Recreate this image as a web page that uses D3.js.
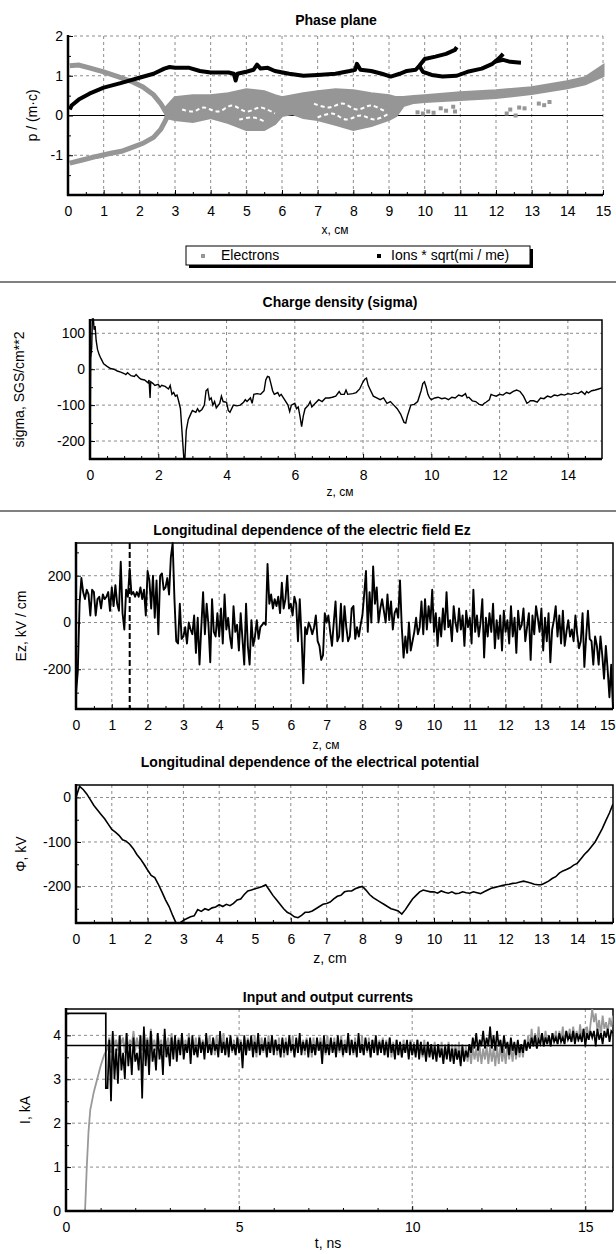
<!DOCTYPE html>
<html>
<head>
<meta charset="utf-8">
<script src="https://cdn.jsdelivr.net/npm/d3@7"></script>
<style>
body { margin: 0; background: #fff; }
svg { display: block; font-family: "Liberation Sans", Arial, sans-serif; }
.grid { stroke: #8c8c8c; stroke-width: 1; stroke-dasharray: 3,3; }
.tick text { font-size: 14px; fill: #000; }
.tick line { stroke: #000; }
.title { font-size: 14px; font-weight: bold; text-anchor: middle; }
.alabel { text-anchor: middle; fill: #000; }
</style>
</head>
<body>
<script>
// ---------- phase plane ----------
var phaseXTicks = [0,1,2,3,4,5,6,7,8,9,10,11,12,13,14,15];
var phaseYTicks = [-1,0,1,2];
// electron branches (x, p)
var elUpper = [[0.05,1.25],[0.3,1.27],[0.6,1.2],[1.0,1.1],[1.4,0.98],[1.8,0.85],[2.1,0.72],[2.4,0.52],[2.6,0.3],[2.72,0.12],[2.8,0.0]];
var elLower = [[0.05,-1.2],[0.4,-1.12],[0.8,-1.03],[1.2,-0.95],[1.5,-0.9],[1.8,-0.8],[2.1,-0.7],[2.4,-0.55],[2.6,-0.35],[2.72,-0.15],[2.8,0.0]];
var bandX   = [2.75,3.0,3.5,4.0,4.5,5.0,5.5,5.8,6.0,6.3,6.6,7.0,7.5,8.0,8.5,9.0,9.2,9.4,9.7,10,11,12,13,14,14.5,15];
var bandTop = [0.2,0.45,0.5,0.5,0.55,0.65,0.6,0.5,0.45,0.5,0.55,0.6,0.65,0.62,0.55,0.5,0.45,0.45,0.48,0.5,0.57,0.62,0.7,0.85,0.95,1.25];
var bandBot = [-0.05,-0.1,-0.15,-0.05,-0.18,-0.35,-0.35,-0.2,0.0,0.05,-0.05,-0.1,-0.22,-0.35,-0.25,-0.1,0.0,0.25,0.33,0.35,0.4,0.45,0.55,0.7,0.8,1.0];
var elHoles = [
  [[3.2,0.15],[3.5,0.1],[3.8,0.2],[4.2,0.1],[4.6,0.25],[5.0,0.1],[5.4,0.2],[5.8,0.05]],
  [[4.8,-0.1],[5.2,-0.05],[5.5,-0.15]],
  [[6.9,0.3],[7.3,0.2],[7.7,0.3],[8.1,0.15],[8.5,0.25],[8.9,0.1]],
  [[7.0,-0.05],[7.4,0.05],[7.8,-0.1],[8.2,0.0],[8.6,-0.1],[9.0,0.05]]
];
var elSparse = [[9.8,0.08],[9.95,0.05],[10.1,0.1],[10.25,0.07],[10.45,0.18],[10.6,0.12],[10.8,0.22],[10.85,0.1],
  [12.3,0.05],[12.4,0.15],[12.55,0.0],[12.65,0.2],[12.8,0.18],[13.2,0.3],[13.35,0.26],[13.5,0.34]];
var ionA = [[0.05,0.15],[0.1,0.25],[0.3,0.4],[0.6,0.55],[1.0,0.7],[1.5,0.82],[2.0,0.95],[2.4,1.05],[2.7,1.18],[2.85,1.22],[3.0,1.2],[3.4,1.2],[3.7,1.12],[4.0,1.08],[4.5,1.08],[4.65,1.05],[4.7,0.88],[4.75,1.05],[5.0,1.1],[5.2,1.15],[5.3,1.28],[5.4,1.18],[5.6,1.2],[5.8,1.12],[6.2,1.05],[6.6,1.0],[7.0,1.02],[7.5,1.05],[7.9,1.12],[8.05,1.15],[8.1,1.3],[8.2,1.15],[8.5,1.12],[8.8,1.05],[9.05,0.98],[9.3,1.05],[9.5,1.12],[9.75,1.15],[9.85,1.25],[10.0,1.42],[10.3,1.48],[10.6,1.55],[10.85,1.65],[10.9,1.72]];
var ionB = [[9.85,1.25],[9.95,1.1],[10.2,1.02],[10.5,0.98],[10.9,1.0],[11.2,1.1],[11.6,1.18],[11.9,1.3],[12.1,1.45],[12.2,1.55]];
var ionC = [[11.95,1.35],[12.2,1.4],[12.4,1.35],[12.7,1.33]];

// ---------- charge density ----------
var sigmaXTicks = [0,2,4,6,8,10,12,14];
var sigmaYTicks = [-200,-100,0,100];
var sigma = [[0.0,-250],[0.02,30],[0.05,60],[0.07,140],[0.1,140],[0.12,110],[0.15,120],[0.18,80],[0.22,55],[0.27,40],[0.32,30],[0.4,15],[0.5,8],[0.6,2],[0.7,0],[0.8,-5],[0.9,-8],[1.0,-12],[1.05,-15],[1.1,-10],[1.2,-18],[1.3,-20],[1.35,-15],[1.45,-25],[1.5,-28],[1.6,-30],[1.7,-38],[1.73,-30],[1.76,-80],[1.78,-35],[1.85,-40],[1.9,-45],[2.0,-42],[2.05,-50],[2.1,-45],[2.2,-48],[2.3,-55],[2.35,-45],[2.4,-70],[2.45,-65],[2.5,-75],[2.55,-72],[2.6,-90],[2.65,-110],[2.7,-180],[2.75,-250],[2.78,-250],[2.82,-170],[2.88,-140],[2.95,-125],[3.0,-115],[3.1,-120],[3.15,-110],[3.2,-118],[3.28,-112],[3.35,-100],[3.4,-60],[3.45,-55],[3.5,-85],[3.55,-80],[3.6,-100],[3.65,-90],[3.7,-108],[3.8,-95],[3.85,-75],[3.9,-90],[4.0,-92],[4.05,-115],[4.1,-120],[4.2,-100],[4.3,-102],[4.4,-100],[4.5,-92],[4.55,-85],[4.6,-90],[4.7,-80],[4.75,-95],[4.8,-70],[4.9,-68],[5.0,-70],[5.1,-60],[5.15,-30],[5.2,-20],[5.25,-22],[5.3,-40],[5.35,-60],[5.4,-70],[5.5,-65],[5.55,-75],[5.6,-70],[5.7,-85],[5.8,-100],[5.85,-118],[5.9,-100],[6.0,-95],[6.05,-110],[6.1,-105],[6.15,-130],[6.2,-160],[6.25,-130],[6.3,-110],[6.4,-100],[6.45,-90],[6.5,-105],[6.6,-95],[6.7,-85],[6.8,-90],[6.9,-80],[7.0,-80],[7.1,-78],[7.2,-75],[7.3,-62],[7.35,-70],[7.45,-70],[7.5,-58],[7.55,-70],[7.7,-68],[7.8,-65],[7.9,-55],[8.0,-35],[8.05,-28],[8.1,-25],[8.15,-45],[8.2,-55],[8.3,-75],[8.4,-80],[8.5,-85],[8.6,-80],[8.7,-95],[8.8,-90],[8.9,-100],[9.0,-110],[9.1,-125],[9.2,-148],[9.25,-150],[9.3,-130],[9.4,-100],[9.5,-98],[9.6,-90],[9.7,-60],[9.75,-40],[9.8,-35],[9.85,-50],[9.9,-70],[9.95,-80],[10.0,-85],[10.1,-80],[10.2,-78],[10.3,-82],[10.4,-80],[10.5,-85],[10.6,-78],[10.7,-80],[10.8,-72],[10.9,-75],[11.0,-68],[11.05,-80],[11.1,-78],[11.2,-88],[11.3,-90],[11.4,-98],[11.5,-100],[11.55,-95],[11.6,-92],[11.7,-85],[11.75,-70],[11.8,-72],[11.9,-75],[12.0,-70],[12.1,-72],[12.2,-65],[12.3,-68],[12.4,-62],[12.5,-58],[12.6,-62],[12.7,-75],[12.8,-95],[12.85,-92],[12.9,-88],[13.0,-88],[13.1,-92],[13.2,-80],[13.3,-82],[13.4,-75],[13.5,-78],[13.6,-72],[13.7,-74],[13.8,-70],[13.9,-72],[14.0,-68],[14.1,-70],[14.2,-66],[14.3,-68],[14.4,-62],[14.5,-70],[14.55,-62],[14.6,-66],[14.7,-60],[14.8,-58],[14.9,-55],[15.0,-52]];

// ---------- electric field Ez (z step 0.05 from 0 to 15) ----------
var zTicks = [0,1,2,3,4,5,6,7,8,9,10,11,12,13,14,15];
var ezYTicks = [-200,0,200];
var ezMarker = 1.5;
var ezValues = [
  -300,-210,80,190,130,100,140,120,30,140,130,30,100,110,60,120,100,110,130,50,
  150,70,160,80,50,260,40,-30,140,110,230,120,130,110,130,110,150,100,140,30,
  220,180,60,200,20,180,-50,200,210,140,150,190,120,280,340,100,-80,-90,80,-70,
  -60,-20,-90,0,-30,-50,30,-130,20,-180,-20,130,-50,80,-10,-170,100,-40,-60,40,
  -60,60,-90,120,-30,20,-60,-110,70,-40,-10,-120,40,-70,-180,80,-100,-180,10,-100,
  -60,10,-70,-20,-10,0,-10,250,80,120,60,100,70,110,40,170,60,100,200,60,
  80,30,110,80,-80,100,-60,-260,-20,-50,0,-20,-50,-20,30,-80,-100,-160,-140,40,
  0,30,-40,-100,0,90,-80,-60,80,-80,70,-20,-80,-60,60,70,-70,-20,-60,-10,
  30,120,220,-40,130,0,240,80,150,0,60,100,50,0,120,10,90,-30,40,60,
  20,180,-20,-150,-60,-130,0,-120,-80,-40,20,-50,-20,90,-50,100,-30,70,0,140,
  -40,40,-100,20,-60,60,-30,130,-20,10,-80,70,0,-40,60,-30,30,-100,50,-20,
  20,-90,140,-40,30,-60,0,100,-150,20,-60,40,-40,80,-110,10,-70,30,-120,50,
  -40,10,-90,70,-60,20,-130,50,-30,-10,60,-80,-20,40,-160,30,-50,70,20,-40,
  60,-120,20,-80,40,-170,-30,10,70,-60,30,-90,50,-100,-40,10,-60,-30,-80,30,
  -50,-110,-80,40,-190,-60,50,-70,-80,-180,-60,-100,-180,-60,-140,-240,-100,-200,-320,-180,
  -370
];

// ---------- potential (z step 0.1 from 0 to 15) ----------
var phiYTicks = [-200,-100,0];
var phiValues = [
  0,25,18,8,-5,-18,-28,-38,-48,-60,
  -72,-78,-85,-95,-98,-105,-115,-128,-138,-150,
  -163,-175,-180,-195,-212,-230,-245,-265,-283,-282,
  -276,-272,-268,-266,-252,-256,-250,-253,-248,-246,
  -241,-245,-240,-243,-238,-230,-228,-218,-210,-208,
  -205,-203,-200,-196,-208,-220,-230,-240,-250,-258,
  -262,-268,-270,-265,-258,-258,-255,-250,-245,-240,
  -238,-235,-228,-222,-220,-212,-210,-210,-205,-202,
  -200,-208,-218,-225,-230,-235,-240,-245,-250,-252,
  -255,-262,-252,-240,-228,-220,-212,-208,-210,-212,
  -212,-215,-210,-213,-215,-212,-216,-215,-212,-214,
  -215,-212,-214,-216,-212,-208,-204,-202,-200,-198,
  -196,-195,-193,-192,-190,-188,-190,-192,-195,-196,
  -196,-192,-188,-182,-178,-170,-165,-162,-158,-152,
  -148,-138,-128,-120,-110,-100,-85,-70,-52,-35,
  -15
];

// ---------- currents ----------
var tTicks = [0,5,10,15];
var iYTicks = [0,1,2,3,4];
var iNominal = 3.77;
var inputStep = [[0,4.5],[1.15,4.5],[1.15,2.8]];
// black trace, t from 1.2 to 15.8 step 0.05
var blackCurrent = [
  2.8,3.9,2.5,4.1,3.0,3.7,2.9,4.0,3.2,3.6,3.0,4.05,3.3,3.8,3.1,3.95,3.4,3.6,3.2,4.0,
  2.56,4.2,3.3,3.9,3.1,4.1,3.4,3.7,3.2,4.05,3.45,3.8,3.1,4.15,3.5,3.75,3.3,3.95,3.45,4.0,
  3.4,3.9,3.55,4.05,3.45,3.8,3.6,3.95,3.35,4.0,3.55,3.75,3.5,3.95,3.6,3.85,3.45,4.05,3.6,3.8,
  3.55,3.95,3.65,3.8,3.5,4.1,3.6,3.85,3.55,3.95,3.5,4.0,3.65,3.8,3.55,3.95,3.6,3.85,3.25,4.0,
  3.55,3.9,3.65,4.0,3.5,3.85,3.6,4.05,3.55,3.8,3.65,3.95,3.5,3.85,3.6,4.0,3.55,3.9,3.65,3.8,
  3.5,3.95,3.6,3.85,3.55,4.0,3.65,3.8,3.5,3.95,3.6,4.05,3.55,3.85,3.65,3.9,3.5,3.95,3.6,3.8,
  3.55,3.95,3.65,3.85,3.35,4.0,3.6,3.8,3.55,3.95,3.6,3.85,3.5,4.0,3.65,3.9,3.55,3.8,3.6,4.05,
  3.55,3.9,3.6,3.85,3.5,4.05,3.6,3.8,3.55,3.95,3.65,3.85,3.5,3.9,3.6,4.0,3.55,3.85,3.6,3.9,
  3.55,3.85,3.5,3.95,3.6,3.8,3.45,3.9,3.55,3.85,3.5,3.8,3.6,3.9,3.45,3.85,3.55,3.8,3.5,3.9,
  3.45,3.85,3.55,3.75,3.4,3.85,3.5,3.8,3.45,3.75,3.4,3.8,3.5,3.7,3.35,3.75,3.45,3.8,3.4,3.7,
  3.35,3.7,3.45,3.65,3.3,3.75,3.4,3.65,3.5,3.8,3.6,3.95,3.7,4.05,3.65,3.9,3.75,4.1,3.7,3.95,
  3.75,4.2,3.7,4.0,3.65,4.1,3.75,3.9,3.6,4.0,3.7,3.85,3.55,3.95,3.65,3.85,3.55,3.9,3.6,3.8,
  3.6,3.9,3.65,3.85,3.7,3.95,3.75,4.0,3.7,3.9,3.8,4.05,3.75,3.95,3.8,4.0,3.75,4.05,3.85,3.95,
  3.8,4.05,3.85,3.95,3.8,4.1,3.9,4.0,3.85,4.1,3.8,4.05,3.9,4.0,3.85,4.15,3.75,4.05,3.9,4.1,
  3.95,4.1,3.75,4.15,3.9,4.05,3.8,4.1,3.95,4.15,3.85,4.1,4.05
];
var grayRise = [[0,0],[0.55,0],[0.6,1.0],[0.65,1.8],[0.7,2.3],[0.8,2.7],[0.9,3.0],[1.0,3.3],[1.1,3.55]];
// gray trace, t from 1.2 to 15.8 step 0.05
var grayCurrent = [
  3.7,3.95,3.6,4.05,3.75,3.9,3.65,4.0,3.8,3.95,3.6,4.05,3.7,3.9,3.75,4.1,3.65,3.95,3.7,4.0,
  3.65,4.1,3.75,3.95,3.6,4.15,3.7,3.9,3.65,4.05,3.75,3.9,3.6,4.0,3.7,3.95,3.65,4.05,3.7,3.9,
  3.6,3.95,3.7,4.0,3.55,3.9,3.65,4.05,3.6,3.9,3.7,3.95,3.55,4.0,3.65,3.9,3.6,3.95,3.7,4.0,
  3.6,3.95,3.55,4.0,3.65,3.9,3.6,4.05,3.55,3.9,3.65,3.95,3.6,3.9,3.55,4.0,3.65,3.9,3.6,3.95,
  3.55,3.95,3.65,3.9,3.6,4.0,3.5,3.9,3.65,3.95,3.6,3.9,3.55,4.0,3.6,3.95,3.65,3.9,3.55,3.95,
  3.6,3.9,3.5,3.95,3.65,3.9,3.6,4.0,3.55,3.9,3.6,3.95,3.65,3.9,3.55,3.95,3.6,3.9,3.5,3.95,
  3.55,3.9,3.65,3.95,3.6,3.9,3.55,4.0,3.6,3.9,3.65,3.95,3.55,3.9,3.6,4.0,3.5,3.9,3.6,3.95,
  3.6,3.9,3.55,3.95,3.65,3.9,3.6,4.0,3.55,3.9,3.6,3.95,3.5,3.9,3.6,3.95,3.55,3.9,3.65,3.95,
  3.55,3.9,3.6,3.95,3.5,3.85,3.6,3.9,3.55,3.85,3.5,3.9,3.6,3.85,3.5,3.9,3.55,3.85,3.6,3.9,
  3.55,3.85,3.5,3.9,3.45,3.85,3.55,3.8,3.5,3.85,3.45,3.8,3.5,3.85,3.45,3.8,3.5,3.85,3.45,3.8,
  3.5,3.8,3.45,3.85,3.4,3.8,3.45,3.75,3.4,3.7,3.35,3.75,3.45,3.7,3.4,3.75,3.35,3.7,3.45,3.75,
  3.35,3.75,3.4,3.7,3.3,3.75,3.35,3.8,3.4,3.7,3.35,3.8,3.45,3.75,3.4,3.8,3.45,3.85,3.5,3.8,
  3.5,3.9,3.65,4.0,3.7,4.15,3.75,4.05,3.7,4.2,3.8,4.05,3.75,4.1,3.8,4.0,3.75,4.05,3.85,4.1,
  3.8,4.1,3.85,4.2,3.8,4.1,3.9,4.15,3.85,4.2,3.9,4.1,3.85,4.25,3.9,4.15,3.95,4.2,3.9,4.25,
  4.6,4.3,4.5,4.1,4.35,4.0,4.45,4.15,4.3,4.05,4.4,4.2,4.45
];

var svg = d3.select("body").append("svg").attr("width", 616).attr("height", 1254);

function minorOf(ticks, step) {
    var out = [];
    for (var i = 0; i < ticks.length - 1; i++) {
        for (var v = ticks[i] + step; v < ticks[i+1] - 1e-9; v += step) out.push(v);
    }
    return out;
}

function plain(d) { return String(d); }

function panel(o) {
    var x = d3.scaleLinear().domain(o.xDom).range([o.l, o.r]);
    var y = d3.scaleLinear().domain(o.yDom).range([o.b, o.t]);
    var g = svg.append("g");

    g.selectAll(null).data(o.xGrid).join("line").attr("class", "grid")
        .attr("x1", function(d) { return x(d); }).attr("x2", function(d) { return x(d); })
        .attr("y1", o.t).attr("y2", o.b);
    g.selectAll(null).data(o.yGrid).join("line").attr("class", "grid")
        .attr("x1", o.l).attr("x2", o.r)
        .attr("y1", function(d) { return y(d); }).attr("y2", function(d) { return y(d); });
    if (o.solid) {
        g.append("path").attr("d", "M" + o.l + "," + o.t + "H" + o.r + "V" + o.b)
            .attr("fill", "none").attr("stroke", "#000").attr("stroke-width", 1.5);
    }

    var ax = g.append("g").attr("transform", "translate(0," + o.b + ")")
        .call(d3.axisBottom(x).tickValues(o.xTicks).tickFormat(plain).tickSize(-5).tickSizeOuter(0).tickPadding(11));
    ax.select(".domain").remove();
    // keep the last label inside the page edge
    ax.selectAll(".tick text").each(function(d) {
        var w = this.getComputedTextLength();
        if (x(d) + w / 2 > 615) d3.select(this).attr("text-anchor", "end").attr("x", 615 - x(d));
    });
    var axm = g.append("g").attr("transform", "translate(0," + o.b + ")")
        .call(d3.axisBottom(x).tickValues(o.xMinor).tickSize(-3).tickSizeOuter(0).tickFormat(""));
    axm.select(".domain").remove();

    var ay = g.append("g").attr("transform", "translate(" + o.l + ",0)")
        .call(d3.axisLeft(y).tickValues(o.yTicks).tickFormat(plain).tickSize(-5).tickSizeOuter(0).tickPadding(5));
    ay.select(".domain").remove();
    var aym = g.append("g").attr("transform", "translate(" + o.l + ",0)")
        .call(d3.axisLeft(y).tickValues(o.yMinor).tickSize(-3).tickSizeOuter(0).tickFormat(""));
    aym.select(".domain").remove();

    g.append("text").attr("class", "title").attr("x", o.titleX).attr("y", o.titleY).text(o.title);
    g.append("text").attr("class", "alabel").attr("x", o.xLabelX).attr("y", o.xLabelY)
        .style("font-size", o.xLabelSize + "px").text(o.xLabel);
    g.append("text").attr("class", "alabel")
        .attr("transform", "translate(" + o.yLabelX + "," + ((o.t + o.b) / 2) + ") rotate(-90)")
        .style("font-size", "14px").text(o.yLabel);

    var plot = g.append("g");
    var frame = g.append("g");
    frame.append("line").attr("x1", o.l).attr("x2", o.l).attr("y1", o.t - 1).attr("y2", o.b + 1)
        .attr("stroke", "#000").attr("stroke-width", 2.5);
    frame.append("line").attr("x1", o.l - 1).attr("x2", o.r).attr("y1", o.b).attr("y2", o.b)
        .attr("stroke", "#000").attr("stroke-width", 2.5);
    return { x: x, y: y, g: plot };
}

function lineOf(p) {
    return d3.line().x(function(d) { return p.x(d[0]); }).y(function(d) { return p.y(d[1]); });
}

// separators
svg.append("line").attr("x1", 0).attr("x2", 616).attr("y1", 282).attr("y2", 282).attr("stroke", "#808080").attr("stroke-width", 2);
svg.append("line").attr("x1", 0).attr("x2", 616).attr("y1", 511).attr("y2", 511).attr("stroke", "#808080").attr("stroke-width", 2);

// ===== Phase plane =====
var p1 = panel({ l: 68, r: 603, t: 36, b: 195, xDom: [0, 15], yDom: [-2, 2],
    xTicks: phaseXTicks, xMinor: minorOf(phaseXTicks, 0.5), yTicks: phaseYTicks, yMinor: [-1.5,-0.5,0.5,1.5],
    xGrid: phaseXTicks.slice(1), yGrid: [-1, 1, 2], solid: false,
    title: "Phase plane", titleX: 336, titleY: 25,
    xLabel: "x, см", xLabelX: 335, xLabelY: 234, xLabelSize: 12,
    yLabel: "p / (m·c)", yLabelX: 37 });
p1.g.append("line").attr("x1", p1.x(0)).attr("x2", p1.x(15)).attr("y1", p1.y(0)).attr("y2", p1.y(0))
    .attr("stroke", "#000").attr("stroke-width", 1);
var elColor = "#969696";
var band = d3.area().x(function(d, i) { return p1.x(bandX[i]); })
    .y0(function(d, i) { return p1.y(bandBot[i]); }).y1(function(d, i) { return p1.y(bandTop[i]); });
p1.g.append("path").attr("d", band(bandX)).attr("fill", elColor).attr("stroke", elColor).attr("stroke-width", 3);
[elUpper, elLower].forEach(function(s) {
    p1.g.append("path").attr("d", lineOf(p1)(s)).attr("fill", "none").attr("stroke", elColor).attr("stroke-width", 5);
});
elHoles.forEach(function(s) {
    p1.g.append("path").attr("d", lineOf(p1).curve(d3.curveCatmullRom)(s)).attr("fill", "none")
        .attr("stroke", "#fff").attr("stroke-width", 2).attr("stroke-dasharray", "4,3");
});
p1.g.selectAll(null).data(elSparse).join("rect")
    .attr("x", function(d) { return p1.x(d[0]) - 2; }).attr("y", function(d) { return p1.y(d[1]) - 2; })
    .attr("width", 4).attr("height", 4).attr("fill", elColor);
[ionA, ionB, ionC].forEach(function(s) {
    p1.g.append("path").attr("d", lineOf(p1)(s)).attr("fill", "none").attr("stroke", "#000")
        .attr("stroke-width", 4).attr("stroke-linejoin", "round");
});
// legend
var lg = svg.append("g");
lg.append("rect").attr("x", 189).attr("y", 249).attr("width", 344).attr("height", 19).attr("fill", "#000");
lg.append("rect").attr("x", 186).attr("y", 246).attr("width", 344).attr("height", 19).attr("fill", "#fff").attr("stroke", "#000");
lg.append("rect").attr("x", 201).attr("y", 254).attr("width", 4).attr("height", 4).attr("fill", elColor);
lg.append("text").attr("x", 221).attr("y", 260).style("font-size", "14px").text("Electrons");
lg.append("rect").attr("x", 377).attr("y", 254).attr("width", 4).attr("height", 4).attr("fill", "#000");
lg.append("text").attr("x", 391).attr("y", 260).style("font-size", "14px").text("Ions * sqrt(mi / me)");

// ===== Charge density =====
var p2 = panel({ l: 90, r: 602, t: 320, b: 459, xDom: [0, 15], yDom: [-250, 137],
    xTicks: sigmaXTicks, xMinor: minorOf(sigmaXTicks.concat([15]), 0.5).concat([14.5]).filter(function(v){return v<15;}),
    yTicks: sigmaYTicks, yMinor: [-150,-50,50],
    xGrid: sigmaXTicks.slice(1), yGrid: sigmaYTicks, solid: true,
    title: "Charge density (sigma)", titleX: 340, titleY: 307,
    xLabel: "z, см", xLabelX: 340, xLabelY: 496, xLabelSize: 12,
    yLabel: "sigma, SGS/cm**2", yLabelX: 24 });
p2.g.append("path").attr("d", lineOf(p2)(sigma)).attr("fill", "none").attr("stroke", "#000").attr("stroke-width", 1.4);

// ===== Ez =====
var ezData = ezValues.map(function(v, i) { return [i * 0.05, v]; });
var p3 = panel({ l: 76, r: 613, t: 543, b: 709, xDom: [0, 15], yDom: [-370, 340],
    xTicks: zTicks, xMinor: minorOf(zTicks, 0.5), yTicks: ezYTicks, yMinor: [-300,-100,100,300],
    xGrid: zTicks.slice(1, 15), yGrid: ezYTicks, solid: true,
    title: "Longitudinal dependence of the electric field Ez", titleX: 312, titleY: 535,
    xLabel: "z, см", xLabelX: 326, xLabelY: 749, xLabelSize: 12,
    yLabel: "Ez, kV / cm", yLabelX: 26 });
p3.g.append("line").attr("x1", p3.x(ezMarker)).attr("x2", p3.x(ezMarker)).attr("y1", 543).attr("y2", 709)
    .attr("stroke", "#000").attr("stroke-width", 2).attr("stroke-dasharray", "6,3");
p3.g.append("path").attr("d", lineOf(p3)(ezData)).attr("fill", "none").attr("stroke", "#000")
    .attr("stroke-width", 1.9).attr("stroke-linejoin", "round");

// ===== Potential =====
var phiData = phiValues.map(function(v, i) { return [i * 0.1, v]; });
var p4 = panel({ l: 76, r: 613, t: 785, b: 923, xDom: [0, 15], yDom: [-282, 28],
    xTicks: zTicks, xMinor: minorOf(zTicks, 0.5), yTicks: phiYTicks, yMinor: [-250,-150,-50],
    xGrid: zTicks.slice(1, 15), yGrid: phiYTicks, solid: true,
    title: "Longitudinal dependence of the electrical potential", titleX: 310, titleY: 767,
    xLabel: "z, cm", xLabelX: 330, xLabelY: 963, xLabelSize: 14,
    yLabel: "Φ, kV", yLabelX: 26 });
var clip4 = svg.append("clipPath").attr("id", "c4");
clip4.append("rect").attr("x", 76).attr("y", 785).attr("width", 537).attr("height", 138);
p4.g.append("path").attr("d", lineOf(p4)(phiData)).attr("clip-path", "url(#c4)")
    .attr("fill", "none").attr("stroke", "#000").attr("stroke-width", 1.6);

// ===== Currents =====
var grayData = grayRise.concat(grayCurrent.map(function(v, i) { return [1.2 + i * 0.05, v]; }));
var blackData = inputStep.concat(blackCurrent.map(function(v, i) { return [1.2 + i * 0.05, v]; }));
var p5 = panel({ l: 66, r: 613, t: 1009, b: 1211, xDom: [0, 15.8], yDom: [0, 4.6],
    xTicks: tTicks, xMinor: [1,2,3,4,6,7,8,9,11,12,13,14], yTicks: iYTicks, yMinor: [0.5,1.5,2.5,3.5,4.5],
    xGrid: tTicks.slice(1), yGrid: iYTicks.slice(1), solid: true,
    title: "Input and output currents", titleX: 328, titleY: 1002,
    xLabel: "t, ns", xLabelX: 328, xLabelY: 1248, xLabelSize: 14,
    yLabel: "I, kA", yLabelX: 30 });
var clip5 = svg.append("clipPath").attr("id", "c5");
clip5.append("rect").attr("x", 66).attr("y", 1009).attr("width", 547).attr("height", 202);
p5.g.append("path").attr("d", lineOf(p5)(grayData)).attr("clip-path", "url(#c5)")
    .attr("fill", "none").attr("stroke", "#999").attr("stroke-width", 1.8);
p5.g.append("line").attr("x1", p5.x(0)).attr("x2", p5.x(15.8)).attr("y1", p5.y(iNominal)).attr("y2", p5.y(iNominal))
    .attr("stroke", "#000").attr("stroke-width", 1.5);
p5.g.append("path").attr("d", lineOf(p5)(blackData)).attr("clip-path", "url(#c5)")
    .attr("fill", "none").attr("stroke", "#000").attr("stroke-width", 1.7);
</script>
</body>
</html>
